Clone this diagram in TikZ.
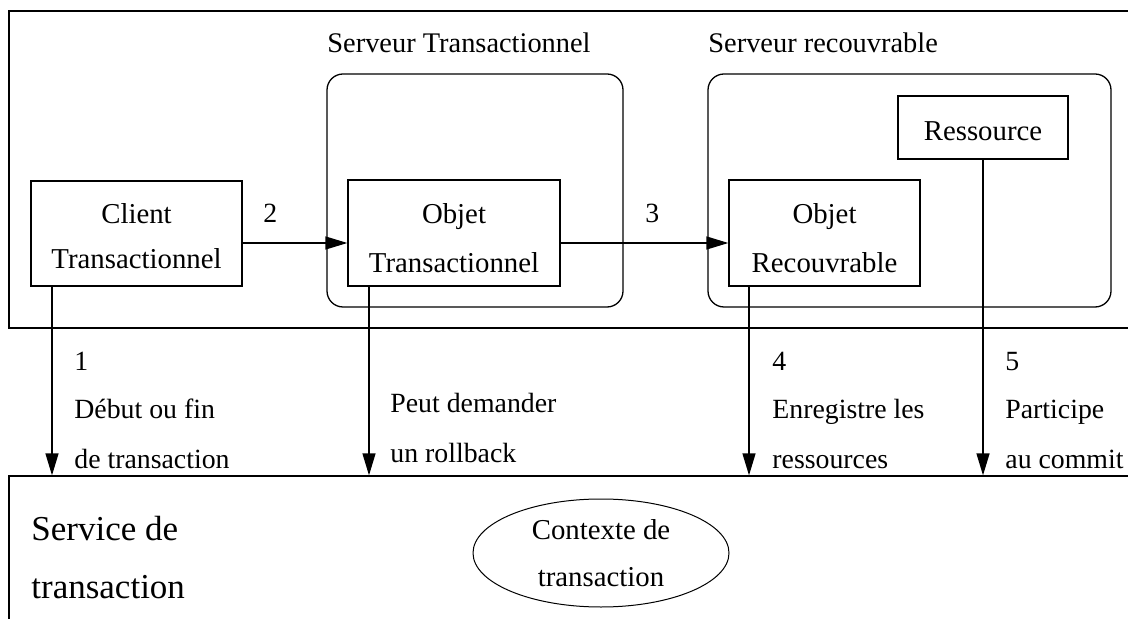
\documentclass[tikz,border=0pt]{standalone}
\usepackage{fontspec}
\setmainfont{Liberation Serif}
\usetikzlibrary{arrows.meta,fit,shapes.geometric}
\begin{document}
\begin{tikzpicture}[x=0.5pt,y=-0.5pt,
  every node/.style={font=\fontsize{14.4}{23.5}\selectfont},
  frame/.style={draw, line width=0.65pt, inner sep=0pt},
  box/.style={draw, line width=0.65pt, inner sep=0pt, align=center},
  srv/.style={draw, line width=0.65pt, inner sep=0pt, rounded corners=8pt},
  arr/.style={line width=0.65pt, -{Triangle[length=11pt,width=6.5pt]}},
  lbl/.style={anchor=base west, inner sep=0pt, font=\fontsize{13.9}{20}\selectfont},
  big/.style={anchor=base west, inner sep=0pt, font=\fontsize{17.5}{20}\selectfont},
]
\useasboundingbox (0,0) rectangle (1128,619);
\clip (0,0) rectangle (1128,619);

% frames
\node[frame, fit={(9,11) (1140,328)}] (top) {};
\node[frame, fit={(9,476) (1140,660)}] (svc) {};
\node[srv, fit={(327,74) (623,307)}] (srvT) {};
\node[srv, fit={(708,74) (1111,307)}] (srvR) {};

% titles
\node[lbl, font=\fontsize{14.2}{20}\selectfont] (tT) at (327,53) {Serveur Transactionnel};
\node[lbl, font=\fontsize{14.2}{20}\selectfont] (tR) at (708,53) {Serveur recouvrable};

% boxes
\node[box, minimum width=105.5pt, minimum height=52.5pt] (client) at (136.5,233.5) {\rule{0pt}{13pt}Client\\[-1pt]Transactionnel};
\node[box, minimum width=106pt, minimum height=53pt] (objT) at (454,233) {\rule{0pt}{15pt}Objet\\[1pt]Transactionnel};
\node[box, minimum width=95.5pt, minimum height=53pt] (objR) at (824.5,233) {\rule{0pt}{15pt}Objet\\[1pt]Recouvrable};
\node[box, minimum width=85pt, minimum height=31.5pt] (res) at (983,127.5) {\rule{0pt}{13.5pt}Ressource};

% horizontal arrows
\coordinate (h) at (0,243);
\draw[arr] (client.east |- h) -- (objT.west |- h);
\draw[arr] (objT.east |- h) -- (objR.west |- h);
\node[lbl] (n2) at (263,223) {2};
\node[lbl] (n3) at (645,223) {3};

% vertical arrows
\coordinate (v1) at (52,0);
\coordinate (v2) at (369,0);
\coordinate (v3) at (749,0);
\coordinate (v4) at (983,0);
\draw[arr] (client.south -| v1) -- (svc.north -| v1);
\draw[arr] (objT.south -| v2) -- (svc.north -| v2);
\draw[arr] (objR.south -| v3) -- (svc.north -| v3);
\draw[arr] (res.south -| v4) -- (svc.north -| v4);

% labels
\node[lbl] (l1a) at (74,371) {1};
\node[lbl] (l1b) at (74,419) {Début ou fin};
\node[lbl] (l1c) at (74,468) {de transaction};
\node[lbl] (l2a) at (390,413) {Peut demander};
\node[lbl] (l2b) at (390,462) {un rollback};
\node[lbl] (l4a) at (772,371) {4};
\node[lbl] (l4b) at (772,419) {Enregistre les};
\node[lbl] (l4c) at (772,468) {ressources};
\node[lbl] (l5a) at (1005,371) {5};
\node[lbl] (l5b) at (1005,419) {Participe};
\node[lbl] (l5c) at (1005,468) {au commit};

% service
\node[big] (s1) at (31,540) {Service de};
\node[big] (s2) at (31,598) {transaction};

% context
\node[draw, ellipse, line width=0.5pt, inner sep=0pt, minimum width=128pt, minimum height=54pt, align=center] (ctx) at (601,553) {Contexte de\\transaction};
\end{tikzpicture}
\end{document}
